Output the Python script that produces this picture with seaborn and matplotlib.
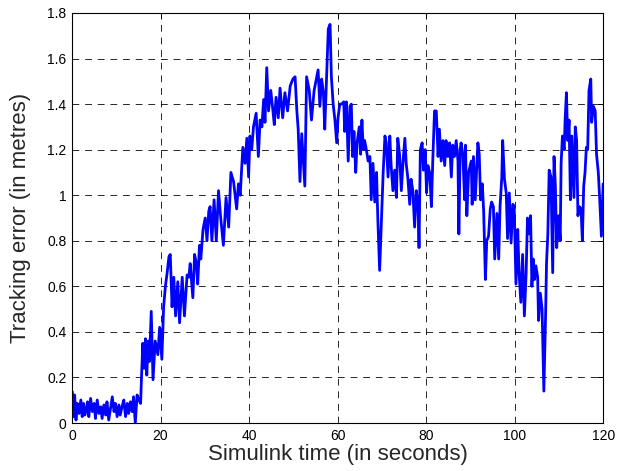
"""
Tracking error vs Simulink time - recreated with seaborn
"""
import numpy as np
import pandas as pd
import matplotlib
matplotlib.use('Agg')
import matplotlib.pyplot as plt
import seaborn as sns

# --- data, in segments (time in s, error in m) ---
t_flat = [0.08, 0.3, 0.6, 0.9, 1.2, 1.6, 2.0, 2.3, 2.6, 2.9, 3.2, 3.5, 3.8, 4.2, 4.6,
          5.0, 5.3, 5.7, 6.1, 6.5, 6.8, 7.2, 7.6, 7.9, 8.3, 8.7, 9.1, 9.5, 9.8, 10.2,
          10.6, 10.9, 11.3, 11.7, 12.1, 12.5, 12.8, 13.2, 13.6, 13.9, 14.3, 14.7, 15.1, 15.5]
e_flat = [0.137, 0.028, 0.123, 0.013, 0.086, 0.042, 0.101, 0.028, 0.086, 0.035, 0.057,
          0.093, 0.028, 0.108, 0.050, 0.086, 0.020, 0.101, 0.042, 0.071, 0.020, 0.079,
          0.035, 0.093, 0.013, 0.064, 0.115, 0.050, 0.086, 0.028, 0.079, 0.035, 0.071,
          0.101, 0.028, 0.086, 0.042, 0.093, 0.050, 0.115, 0.0, 0.123, 0.101, 0.086]

t_rise = [15.7, 16.0, 16.3, 16.6, 16.9, 17.2, 17.5, 17.9, 18.3, 18.8, 19.4, 19.8, 20.3,
          20.7, 21.1, 21.5, 21.9, 22.2, 22.6, 23.0, 23.4, 23.9, 24.3, 24.9, 25.4, 26.0,
          26.4, 26.7, 27.3, 27.7, 28.1, 28.4, 28.8, 29.1, 29.6, 30.1, 30.5, 30.9, 31.2,
          31.6, 32.1, 32.6, 33.1, 33.6, 34.2, 34.8, 35.4, 35.9, 36.5, 36.9, 37.2, 37.6,
          38.0, 38.6, 39.1, 39.5, 39.9, 40.2, 40.6, 41.0, 41.6, 42.1, 42.5, 42.9, 43.3, 43.6]
e_rise = [0.20, 0.35, 0.24, 0.37, 0.21, 0.36, 0.27, 0.49, 0.19, 0.36, 0.30, 0.42, 0.28,
          0.51, 0.60, 0.66, 0.73, 0.74, 0.51, 0.64, 0.47, 0.62, 0.44, 0.64, 0.47, 0.65,
          0.64, 0.70, 0.55, 0.74, 0.70, 0.61, 0.78, 0.72, 0.85, 0.90, 0.80, 0.93, 0.95,
          0.80, 0.98, 0.80, 1.02, 0.90, 0.78, 0.99, 0.86, 1.10, 1.06, 0.99, 0.94, 1.05,
          1.00, 1.21, 1.14, 1.25, 1.08, 1.26, 1.20, 1.30, 1.36, 1.17, 1.33, 1.30, 1.42, 1.32]

t_peak = [44.0, 44.4, 44.9, 45.4, 45.7, 46.1, 46.6, 47.0, 47.6, 48.1, 48.7, 49.3, 49.9,
          50.4, 50.8, 51.1, 51.5, 51.9, 52.3, 52.6, 53.0, 53.6, 54.1, 54.7, 55.1, 55.6,
          56.0, 56.4, 56.8, 57.1, 57.5, 57.9, 58.3, 58.6, 59.0, 59.4, 59.8, 60.1, 60.5]
e_peak = [1.56, 1.37, 1.46, 1.37, 1.31, 1.43, 1.34, 1.47, 1.34, 1.45, 1.37, 1.48, 1.51,
          1.52, 1.37, 1.29, 1.06, 1.27, 1.14, 1.04, 1.52, 1.46, 1.33, 1.46, 1.50, 1.55,
          1.39, 1.51, 1.45, 1.29, 1.51, 1.73, 1.75, 1.52, 1.40, 1.33, 1.23, 1.34, 1.40]

t_mid = [60.9, 61.4, 61.6, 62.0, 62.4, 62.8, 63.1, 63.4, 63.7, 64.1, 64.4, 64.9, 65.2,
         65.5, 65.8, 66.1, 66.5, 66.9, 67.3, 67.6, 68.0, 68.4, 68.8, 69.1, 69.5, 69.9,
         70.3, 70.7, 71.0, 71.4, 71.8, 72.1, 72.5, 72.9, 73.3, 73.6, 74.0, 74.4, 74.8,
         75.2, 75.5, 75.9, 76.3, 76.6, 77.0, 77.4, 77.8, 78.2, 78.4, 78.7, 79.1, 79.4,
         79.8, 80.1, 80.4, 80.8, 81.2, 81.5, 81.9, 82.3, 82.7, 83.0, 83.4, 83.8, 84.2,
         84.5, 84.9, 85.3, 85.7, 86.0, 86.4, 86.8, 87.2, 87.4, 87.7]
e_mid = [1.40, 1.41, 1.28, 1.41, 1.15, 1.39, 1.40, 1.17, 1.28, 1.10, 1.23, 1.30, 1.18,
         1.33, 1.20, 1.24, 1.20, 1.15, 1.17, 0.98, 1.14, 0.97, 1.10, 0.89, 0.67, 0.89,
         1.10, 1.26, 1.23, 1.08, 1.26, 1.13, 1.02, 1.11, 0.99, 1.25, 1.18, 1.02, 1.15,
         1.25, 1.14, 1.07, 0.96, 1.07, 1.02, 0.86, 1.02, 0.94, 0.77, 1.20, 1.23, 1.11,
         1.20, 1.01, 1.13, 1.10, 0.95, 1.15, 1.37, 1.37, 1.17, 1.29, 1.15, 1.24, 1.13,
         1.24, 1.17, 1.23, 1.08, 1.22, 1.17, 1.24, 1.15, 0.83, 1.20]

t_end = [87.9, 88.3, 88.7, 88.9, 89.2, 89.6, 90.2, 90.4, 90.7, 91.1, 91.7, 92.0, 92.3,
         92.7, 93.0, 93.4, 93.7, 94.1, 94.5, 94.8, 95.2, 95.5, 96.0, 96.4, 96.7, 97.1,
         97.3, 97.7, 98.1, 98.4, 98.8, 99.2, 99.6, 99.9, 100.3, 100.7, 101.0, 101.4,
         101.8, 102.2, 102.6, 102.9, 103.3, 103.6, 103.9, 104.2, 104.5, 104.8, 105.2,
         105.4, 105.8, 106.2, 106.6, 107.0, 107.2, 107.5, 107.8, 108.2, 108.6, 108.9,
         109.2, 109.5, 109.9, 110.3, 110.5, 110.8, 111.2, 111.4, 111.7, 112.0, 112.3,
         112.6, 112.9, 113.4, 113.7, 114.0, 114.3, 114.6, 115.0, 115.3, 115.6, 115.9,
         116.2, 116.5, 116.8, 117.2, 117.4, 117.8, 118.2, 118.5, 118.9, 119.2, 119.6, 120.0]
e_end = [1.23, 1.18, 0.98, 1.22, 0.91, 1.10, 1.15, 0.96, 1.17, 0.98, 1.23, 1.18, 0.98,
         1.05, 0.93, 0.63, 0.80, 0.82, 0.94, 0.97, 0.95, 0.72, 0.92, 0.72, 0.95, 1.08,
         1.24, 1.07, 1.01, 0.81, 1.01, 0.79, 0.96, 0.95, 0.61, 0.85, 0.66, 0.53, 0.74,
         0.47, 0.66, 0.90, 0.83, 0.91, 0.60, 0.72, 0.63, 0.69, 0.64, 0.45, 0.57, 0.50,
         0.14, 0.48, 0.70, 0.83, 1.11, 1.08, 0.66, 1.17, 1.04, 0.77, 0.91, 0.80, 1.14,
         1.26, 1.20, 1.33, 1.45, 1.24, 1.33, 0.98, 1.26, 0.99, 1.30, 1.24, 0.91, 0.95,
         0.94, 0.80, 1.04, 1.10, 1.21, 1.20, 1.46, 1.51, 1.32, 1.39, 1.37, 1.18, 1.10,
         0.99, 0.82, 1.05]

x_ticks = [0, 20, 40, 60, 80, 100, 120]
y_ticks = [0, 0.2, 0.4, 0.6, 0.8, 1, 1.2, 1.4, 1.6, 1.8]
y_tick_labels = ['0', '0.2', '0.4', '0.6', '0.8', '1', '1.2', '1.4', '1.6', '1.8']

df = pd.DataFrame({
    'time': t_flat + t_rise + t_peak + t_mid + t_end,
    'error': e_flat + e_rise + e_peak + e_mid + e_end,
})

sns.set_style('white')
plt.rcParams['font.family'] = ['Liberation Sans', 'DejaVu Sans']

fig = plt.figure(figsize=(6.18, 4.71), dpi=100)
ax = fig.add_axes([0.1165, 0.1019, 0.8595, 0.8705])

sns.lineplot(data=df, x='time', y='error', ax=ax, color='#0000ff',
             linewidth=2.0, estimator=None, sort=False)

ax.set_xlim(0, 120)
ax.set_ylim(0, 1.8)
ax.set_xticks(x_ticks)
ax.set_xticklabels([str(v) for v in x_ticks])
ax.set_yticks(y_ticks)
ax.set_yticklabels(y_tick_labels)

# matlab-like dashed grid and inward ticks on every side
ax.grid(True, color='black', linestyle=(0, (7, 6)), linewidth=0.7, alpha=0.85)
ax.tick_params(direction='in', length=4, width=0.7, labelsize=10,
               top=True, right=True, colors='black', pad=4)
for spine in ax.spines.values():
    spine.set_visible(True)
    spine.set_color('black')
    spine.set_linewidth(0.8)

ax.set_xlabel('Simulink time (in seconds)', fontsize=16)
ax.set_ylabel('Tracking error (in metres)', fontsize=16)
ax.xaxis.set_label_coords(0.5, -0.052)
ax.yaxis.set_label_coords(-0.077, 0.5)

fig.savefig('out.png', dpi=100, facecolor='white')
